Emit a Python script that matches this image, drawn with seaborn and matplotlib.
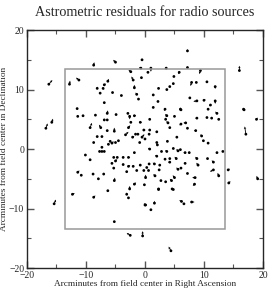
import numpy as np
import pandas as pd
import matplotlib
matplotlib.use("Agg")
import matplotlib.pyplot as plt
from matplotlib.patches import Rectangle
from matplotlib.ticker import MultipleLocator
import seaborn as sns

# positions (arcmin) and residual vectors of radio sources
ra = [-16.3, -12.8, -11.2, -8.7, -5.0, -6.3, -6.9, -8.1, -7.1, -7.6, -5.5, -4.0, -6.9, -11.5, -2.0, -1.8,
      -1.4, -0.5, -0.7, -2.4, -0.6, -1.1,
      7.2, 1.0, 3.6, 7.2, 9.4, 0.5, 16.0, 4.9, 5.8, 7.9, 8.7, 10.5, 4.8, 4.2, 3.7, 2.3, 11.9, 1.4, 7.6,
      8.8, 10.0, 11.9, 11.1, 2.2, 1.4, 6.0, 3.4, 10.7, 16.7,
      -16.8, -15.8, -11.4, -10.5, -8.4, -6.4, -4.9, -2.9, -2.6, -1.8, -6.9, -6.4, -9.3, -7.5, -6.4, -5.2,
      -2.8, -2.4, -3.3, -1.6, -1.2, -2.1, -0.2, -0.5, -8.1, -7.3, -8.7, -5.9, -5.6, -6.2, -5.0, -4.5,
      -0.9, -7.7, -7.3, -6.9, -7.3, -1.8, -10.1, -9.3, -5.3, -4.7, -3.7, -2.8, -5.0, -5.6, -3.7, -2.8,
      -2.0, -0.8, -5.3, -3.1, -1.4, -0.2, -11.4, -10.8, -8.8, -7.0, -7.9, -5.2, -2.6, -1.8, 0.1, -0.1, -0.8,
      0.8, 0.8, 0.7, 0.0, 2.0, 3.5, 3.9, 3.7, 5.0, 4.2, 6.1, 6.1, 6.9, 7.2, 8.8, 8.6, 10.5, 11.3, 12.5,
      12.2, 9.6, 9.9, 10.7, 5.4, 3.8, 2.0, 2.1, 4.8, 5.6, 6.0, 6.8, 7.5, 3.7, 2.8, 0.8, 12.2, 13.2, 2.0,
      3.4, 4.2, 5.3, 8.8, 10.6, 11.6, 0.7, 1.6, 2.5, 4.2, 6.8, 9.0, 0.3, 0.6, 2.4, 5.6, 6.1, 7.2, 11.6,
      5.0, 1.7, 2.7, 3.5, 4.5, 8.5, 8.4, 12.5, 2.3, 4.6, 16.8, 18.9, 17.1, 14.1, 14.2, 19.1,
      -15.4, -12.3, -8.7, -6.3, -3.1, -2.8, 0.1, -5.2, -2.5, -0.4,
      2.3, 4.8, 1.6, 0.0, 1.0, 6.2, 6.6, 7.9, 4.4]
dec = [10.9, 10.9, 11.6, 14.1, 14.6, 11.4, 10.8, 10.2, 10.2, 9.4, 9.5, 9.0, 7.8, 6.8, 11.6, 10.3,
       9.2, 15.0, 13.6, 13.0, 12.0, 8.4,
       16.5, 13.6, 13.6, 13.7, 13.2, 12.9, 13.2, 12.2, 12.9, 11.2, 11.2, 11.3, 11.0, 10.5, 10.0, 10.2, 10.5,
       9.1, 8.6, 8.1, 8.2, 8.1, 7.4, 8.0, 7.0, 6.7, 6.7, 6.7, 6.7,
       3.5, 4.5, 5.5, 5.6, 5.7, 6.0, 5.8, 6.0, 5.5, 5.6, 4.9, 4.9, 3.6, 3.6, 3.1, 3.0,
       3.6, 4.5, 2.4, 2.5, 2.5, 2.0, 3.2, 2.0, 2.1, 2.1, 1.1, 1.3, 1.0, 0.8, 1.1, 1.4,
       1.1, -0.4, -0.4, -0.4, 0.3, -0.6, -1.0, -1.8, -1.4, -1.4, -1.4, -1.4, -2.0, -2.4, -2.6, -2.9,
       -2.9, -2.7, -3.2, -3.8, -3.6, -3.6, -3.9, -4.4, -4.2, -4.2, -5.0, -5.3, -6.7, -5.9, -4.8, -6.0, 4.5,
       5.0, 3.2, 2.5, 1.7, 2.9, 5.0, 4.4, 5.6, 5.5, 3.6, 6.6, 4.2, 4.4, 3.5, 5.2, 3.1, 5.3, 5.2, 5.0,
       6.0, 2.2, 1.4, 1.0, 2.0, 1.3, 1.1, 0.7, 0.1, -0.3, -0.1, -0.6, -0.6, -0.4, -0.4, 0.0, -0.6, -0.4, -1.2,
       -1.7, -1.6, -1.6, -1.6, -1.6, -2.2, -2.5, -2.5, -2.7, -2.2, -2.4, -2.7, -3.1, -3.6, -3.5, -3.4, -3.2, -4.1, -3.5,
       -4.8, -4.5, -5.3, -5.5, -5.3, -4.8, -5.9, -4.5, -6.7, -6.7, 6.6, 5.0, 2.5, -3.5, -5.7, -5.0,
       -9.2, -7.6, -8.1, -7.0, -7.6, -8.2, -9.4, -12.2, -14.5, -14.6,
       -6.8, -6.8, -9.1, -9.4, -10.2, -8.8, -9.2, -8.9, -17.1]
d_ra = [0.6, 0.1, -0.5, 0.1, -0.4, 0.2, 0.3, 0.0, 0.2, 0.0, 0.0, 0.2, 0.0, 0.0, -0.3, 0.0,
        -0.2, 0.0, -0.3, -0.4, 0.0, 0.0,
        0.0, 0.0, -0.3, 0.0, -0.2, -0.2, 0.0, 0.0, -0.2, -0.2, 0.0, 0.0, 0.0, 0.0, 0.0, 0.0, 0.0, 0.0, 0.0,
        -0.6, 0.3, 0.0, -0.2, 0.0, 0.0, 0.0, -0.2, 0.0, 0.0,
        0.3, 0.2, 0.0, 0.0, 0.0, 0.1, 0.0, 0.0, 0.0, 0.3, 0.0, 0.0, 0.3, -0.3, 0.0, 0.0,
        0.3, 0.0, 0.5, 0.0, 0.0, 0.3, 0.3, 0.4, 0.0, 0.0, 0.0, 0.0, 0.3, 0.0, 0.0, 0.0,
        0.0, 0.0, 0.0, 0.0, 0.0, 0.0, 0.0, 0.0, 0.0, 0.0, 0.0, 0.3, 0.3, 0.0, 0.0, 0.3,
        0.0, 0.0, 0.0, 0.0, 0.0, 0.0, 0.3, 0.0, 0.0, 0.0, 0.0, 0.1, 0.0, 0.3, 0.0, 0.0, 0.3,
        0.0, 0.0, 0.0, 0.0, 0.0, 0.0, -0.3, -0.3, 0.0, 0.0, 0.0, -0.3, -0.4, 0.0, -0.3, -0.3, 0.0, 0.0, -0.2,
        -0.3, -0.2, 0.0, 0.0, 0.0, 0.0, 0.0, 0.0, 0.0, -0.3, 0.0, -0.3, 0.0, -0.3, 0.0, -0.3, 0.0, 0.0, -0.3,
        0.0, 0.0, -0.3, -0.3, 0.0, -0.3, 0.0, -0.3, 0.0, -0.3, 0.0, -0.3, 0.0, 0.0, 0.0, -0.3, 0.0, 0.0, -0.6,
        -0.3, -0.3, 0.0, 0.0, -0.3, -0.5, -0.3, -0.2, 0.0, 0.0, 0.0, 0.2, -0.2, 0.3, 0.3, -0.2,
        0.3, 0.4, 0.3, 0.0, 0.0, 0.0, -0.3, 0.0, -0.6, 0.0,
        0.0, 0.0, 0.0, 0.0, 0.0, -0.4, 0.0, 0.5, -0.4]
d_dec = [0.7, 0.6, 0.4, 0.5, 0.4, 0.4, 0.2, 0.3, -0.2, 0.0, 0.0, 0.0, 0.0, 0.0, 0.6, 0.5,
         0.3, 0.2, 0.2, 0.3, 0.0, 0.0,
         0.3, -0.6, 0.0, 0.2, -0.6, 0.0, 0.8, 0.0, -0.3, -0.6, 0.0, 0.0, 0.0, 0.0, 0.0, 0.0, -0.4, 0.0, 0.0,
         -0.1, 0.1, -0.5, -0.2, 0.0, 0.0, 0.3, -0.3, 0.0, 0.0,
         0.8, 0.6, 0.0, 0.0, 0.0, 0.5, 0.0, 0.0, -0.5, 0.1, 0.0, 0.0, 0.8, 0.5, 0.0, 0.6,
         0.4, 0.0, 0.5, 0.0, 0.0, 0.2, 0.0, 0.5, 0.0, 0.0, 0.0, 0.0, 0.3, 0.0, 0.0, 0.0,
         0.0, 0.0, 0.0, 0.0, 0.0, 0.0, 0.0, 0.0, 0.0, 0.0, 0.0, 0.0, 0.3, 0.0, 0.0, 0.2,
         0.0, 0.0, 0.0, 0.0, 0.0, 0.0, 0.3, 0.0, 0.0, 0.0, 0.0, 0.5, 0.5, 0.3, 0.5, 0.0, 0.0,
         0.0, 0.0, 0.0, 0.0, 0.0, 0.3, 0.3, 0.3, 0.0, 0.0, 0.0, -0.2, 0.0, 0.0, 0.0, 0.0, 0.0, 0.0, 0.0,
         0.3, 0.3, 0.0, 0.0, 0.0, 0.0, 0.0, 0.0, 0.0, 0.3, 0.0, 0.0, 0.2, 0.2, 0.0, 0.2, 0.0, 0.0, 0.2,
         0.0, 0.0, 0.3, 0.3, 0.0, 0.3, 0.0, 0.2, 0.0, 0.0, 0.0, 0.4, 0.0, 0.0, 0.0, 0.3, 0.0, 0.0, -0.3,
         0.4, 0.3, 0.0, 0.0, 0.3, 0.0, -0.3, 0.5, 0.0, 0.0, 0.0, 0.3, 1.3, 0.2, 0.3, 0.5,
         0.7, 0.2, 0.3, 0.0, 0.3, 0.0, 0.3, 0.0, 0.4, 0.8,
         0.0, 0.0, 0.4, 0.0, 0.0, 0.2, 0.0, 0.0, 0.7]

field_half = 13.5  # half-width of the field box (arcmin)

df = pd.DataFrame({"ra": ra, "dec": dec, "d_ra": d_ra, "d_dec": d_dec})

sns.set_style("ticks")
plt.rcParams["font.family"] = ["Liberation Serif", "DejaVu Serif"]

fig = plt.figure(figsize=(2.70, 2.92), dpi=100)
ax = fig.add_axes([0.1, 0.082, 0.874, 0.815])

ax.quiver(df["ra"], df["dec"], df["d_ra"], df["d_dec"], angles="xy", scale_units="xy", scale=1,
          width=0.0035, headwidth=3, headlength=3, headaxislength=2.5, color="black")
sns.scatterplot(data=df, x="ra", y="dec", ax=ax, s=4, color="black", edgecolor="none", linewidth=0)

ax.add_patch(Rectangle((-field_half, -field_half), 2 * field_half, 2 * field_half,
                       fill=False, edgecolor="#999999", lw=1.1))

ax.set_xlim(-20, 20)
ax.set_ylim(-20, 20)
ax.xaxis.set_major_locator(MultipleLocator(10))
ax.yaxis.set_major_locator(MultipleLocator(10))
ax.xaxis.set_minor_locator(MultipleLocator(5))
ax.yaxis.set_minor_locator(MultipleLocator(5))
ax.tick_params(which="both", direction="in", top=True, right=True, labelsize=7, pad=2, color="#555555")
ax.tick_params(which="major", length=5, width=1)
ax.tick_params(which="minor", length=3, width=0.8)
for s in ax.spines.values():
    s.set_linewidth(1.0)

ax.set_title("Astrometric residuals for radio sources", fontsize=10.2, pad=10)
ax.set_xlabel("Arcminutes from field center in Right Ascension", fontsize=6.7, labelpad=0)
ax.set_ylabel("Arcminutes from field center in Declination", fontsize=6.7, labelpad=1)

fig.savefig("out.png", dpi=100)
